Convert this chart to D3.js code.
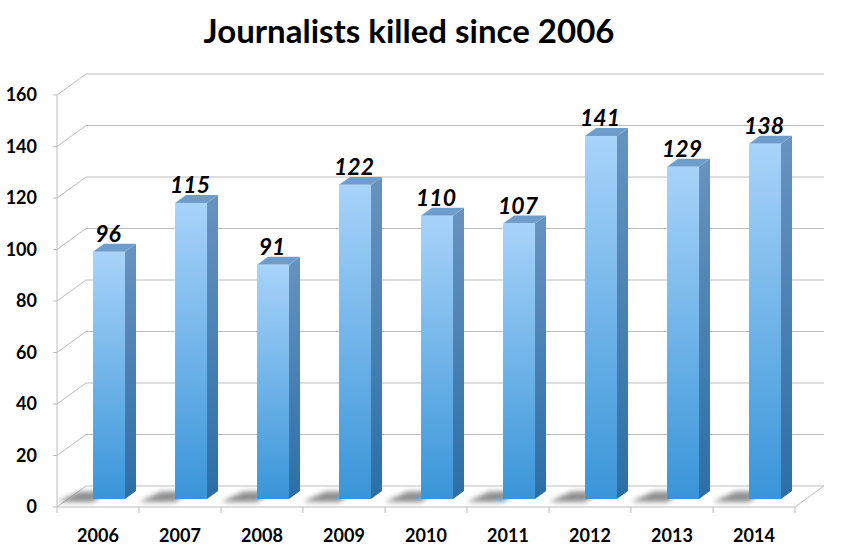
<!DOCTYPE html>
<html><head><meta charset="utf-8">
<script src="https://cdn.jsdelivr.net/npm/d3@7"></script>
<style>body{margin:0;background:#fff}svg{display:block}</style>
</head><body>
<svg id="c" width="846" height="547"></svg>
<script>
const years = ["2006","2007","2008","2009","2010","2011","2012","2013","2014"];
const killed = [96,115,91,122,110,107,141,129,138];
const yTicks = [0,20,40,60,80,100,120,140,160];
const title = "Journalists killed since 2006";

const svg = d3.select("#c");
const DX = 29, DY = 21;           // depth offset of the back wall
const z0 = 0.38, z1 = 0.76;       // bar depth range
const x = d3.scaleBand().domain(years).range([57, 795]).padding(0);
const y = d3.scaleLinear().domain([0,160]).range([507, 95]);
const P = (xf, v, z) => [xf + z*DX, y(v) - z*DY];
const x0 = x.range()[0], x1 = x.range()[1];

const defs = svg.append("defs");
const gF = defs.append("linearGradient").attr("id","gFront").attr("x1",0).attr("y1",0).attr("x2",0).attr("y2",1);
gF.append("stop").attr("offset","0%").attr("stop-color","#a8d3fa");
gF.append("stop").attr("offset","100%").attr("stop-color","#3995d8");
const gS = defs.append("linearGradient").attr("id","gSide").attr("x1",0).attr("y1",0).attr("x2",0).attr("y2",1);
gS.append("stop").attr("offset","0%").attr("stop-color","#6893c0");
gS.append("stop").attr("offset","100%").attr("stop-color","#2b6ea6");
defs.append("filter").attr("id","blur").attr("x","-50%").attr("y","-50%").attr("width","200%").attr("height","200%")
  .append("feGaussianBlur").attr("stdDeviation",2.5);

// title
svg.append("text").attr("x",409).attr("y",43).attr("text-anchor","middle")
  .attr("font-family","Lato, 'Open Sans', sans-serif").attr("font-weight","bold")
  .attr("font-size",33).attr("fill","#000").text(title);

const grid = svg.append("g").attr("stroke","#bdbdbd").attr("stroke-width",1).attr("fill","none");
const line = d3.line();
yTicks.forEach(t => {
  grid.append("path").attr("d", line([[x0-4, y(t)], P(x0,t,0), P(x0,t,1), P(x1,t,1)]));
});
grid.append("path").attr("d", line([P(x0,0,0), P(x0,160,0)]));
grid.append("path").attr("d", line([P(x0,0,0), P(x1,0,0), P(x1,0,1)]));
x.domain().concat(["end"]).forEach((d,i) => {
  const xx = x0 + i*x.bandwidth();
  grid.append("path").attr("d", line([[xx, y(0)], [xx, y(0)+6]]));
});

// y tick labels
svg.append("g").selectAll("text").data(yTicks).join("text")
  .attr("x",37).attr("y",d=>y(d)).attr("dy","0.36em").attr("text-anchor","end")
  .attr("font-family","Lato, sans-serif").attr("font-weight","bold").attr("font-size",18)
  .text(d=>d);

// x labels
svg.append("g").selectAll("text").data(years).join("text")
  .attr("x",d=>x(d)+x.bandwidth()/2).attr("y",542).attr("text-anchor","middle")
  .attr("font-family","Lato, sans-serif").attr("font-weight","bold").attr("font-size",18)
  .text(d=>d);

const bw = x.bandwidth()*0.39;
const bars = svg.append("g");
years.forEach((yr,i) => {
  const v = killed[i];
  const xl = x(yr) + x.bandwidth()/2 - bw/2, xr = xl + bw;
  // shadow
  bars.append("path").attr("filter","url(#blur)").attr("fill","#7a7a7a").attr("opacity",0.85)
    .attr("d", line([P(xl-24,0,z1-0.02), P(xl+4,0,z1-0.02), P(xl+4,0,z0-0.14), P(xl-32,0,z0-0.14)])+"Z");
  // side
  bars.append("path").attr("fill","url(#gSide)")
    .attr("d", line([P(xr,0,z0), P(xr,v,z0), P(xr,v,z1), P(xr,0,z1)])+"Z");
  // top
  bars.append("path").attr("fill","#6f9dcb")
    .attr("d", line([P(xl,v,z0), P(xr,v,z0), P(xr,v,z1), P(xl,v,z1)])+"Z");
  // front
  const a = P(xl,v,z0), b = P(xr,0,z0);
  bars.append("rect").attr("x",a[0]).attr("y",a[1]).attr("width",b[0]-a[0]).attr("height",b[1]-a[1])
    .attr("fill","url(#gFront)");
  // label
  const top = P(xl + bw/2, v, z1);
  bars.append("text").attr("x", a[0] + bw/2 - 1).attr("y", top[1]-2).attr("text-anchor","middle")
    .attr("font-family","Lato, sans-serif").attr("font-weight","bold").attr("font-style","italic")
    .attr("font-size",23).text(v);
});
</script>
</body></html>
